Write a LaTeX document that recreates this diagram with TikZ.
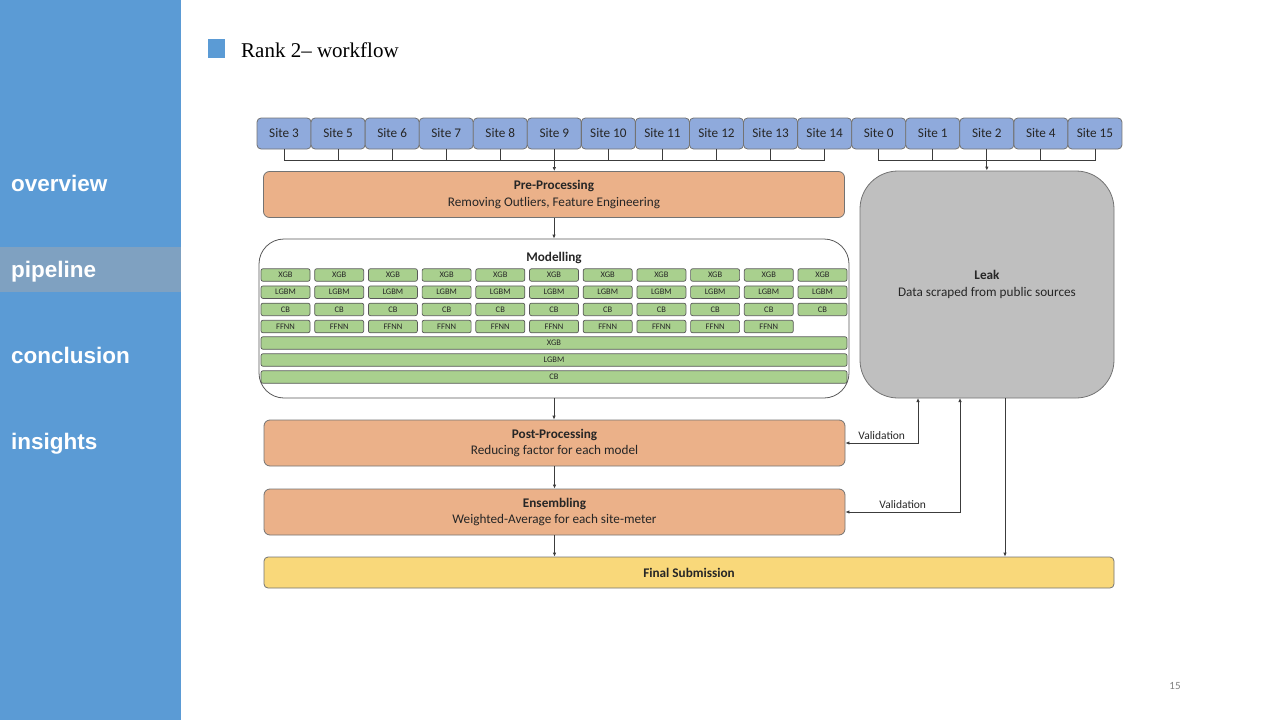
\documentclass[tikz,border=0pt]{standalone}
\usepackage{fontspec}
\setmainfont{Carlito}
\newfontfamily\navfont{Liberation Sans}
\newfontfamily\headfont[Ligatures=TeX]{Liberation Serif}
\usetikzlibrary{positioning,arrows.meta,calc}
\definecolor{navblue}{RGB}{91,155,213}
\definecolor{navsel}{RGB}{127,161,193}
\definecolor{siteblue}{RGB}{143,170,220}
\definecolor{stageorange}{RGB}{235,177,137}
\definecolor{leakgray}{RGB}{191,191,191}
\definecolor{modelgreen}{RGB}{169,208,142}
\definecolor{subyellow}{RGB}{249,216,122}
\definecolor{edgegray}{RGB}{60,60,60}

\begin{document}
\begin{tikzpicture}[x=1pt, y=-1pt, every node/.style={inner sep=0pt, text=black!85, font=\fontsize{13.2}{16.5}\selectfont}]
  \tikzset{
    site/.style={draw=black!55, line width=0.8pt, fill=siteblue, rounded corners=4pt, minimum width=54pt, minimum height=31pt},
    stage/.style={draw=black!55, line width=0.8pt, fill=stageorange, rounded corners=6pt, minimum width=581pt, minimum height=46pt, align=center},
    model/.style={draw=black!65, line width=0.7pt, fill=modelgreen, rounded corners=2pt, minimum width=49pt, minimum height=12.5pt, font=\fontsize{8.5}{9}\selectfont},
    flow/.style={draw=edgegray, line width=0.8pt, -{Latex[length=4pt,width=3.5pt]}},
    both/.style={draw=edgegray, line width=0.8pt, {Latex[length=4pt,width=3.5pt]}-{Latex[length=4pt,width=3.5pt]}},
    navitem/.style={anchor=base west, text=white, font=\navfont\bfseries\fontsize{22.5}{24}\selectfont}
  }
  \useasboundingbox (0,0) rectangle (1280,720);

  % Side bar and slide title
  \fill[navblue] (0,0) rectangle (181,720);
  \fill[navsel] (0,247) rectangle (181,292);
  \node[navitem] (nav1) at (11,191) {overview};
  \node[navitem] (nav2) at (11,277) {pipeline};
  \node[navitem] (nav3) at (11,363) {conclusion};
  \node[navitem] (nav4) at (11,449) {insights};
  \fill[navblue] (208,39) rectangle (225,58);
  \node[anchor=base west, text=black, font=\headfont\fontsize{21}{24}\selectfont] (title) at (241,57) {Rank 2-- workflow};
  \node[text=black!50, font=\fontsize{11}{12}\selectfont] (page) at (1175,686) {15};

  % Sites
  \foreach \s [count=\i from 0] in {3,5,6,7,8,9,10,11,12,13,14,0,1,2,4,15}
    \node[site] (s\s) at ({257+54.06*(\i+0.5)},133.5) {Site \s};

  % Stages
  \node[stage] (pre) at (554,194.5) {\textbf{Pre-Processing}\\Removing Outliers, Feature Engineering};
  \node[draw=black!65, line width=0.8pt, rounded corners=25pt, minimum width=590pt, minimum height=159pt] (model) at (554,318.5) {};
  \node[font=\bfseries\fontsize{13.2}{14}\selectfont] (modtitle) at (554,258) {Modelling};
  \node[stage] (post) at (554.5,443) {\textbf{Post-Processing}\\Reducing factor for each model};
  \node[stage] (ens) at (554.5,512) {\textbf{Ensembling}\\Weighted-Average for each site-meter};
  \node[draw=black!55, line width=0.8pt, fill=subyellow, rounded corners=4pt, minimum width=850pt, minimum height=31pt, font=\bfseries\fontsize{13.2}{14}\selectfont] (final) at (689,572.5) {Final Submission};
  \node[draw=black!55, line width=0.8pt, fill=leakgray, rounded corners=38pt, minimum width=254pt, minimum height=227pt, align=center] (leak) at (987,284.5) {\textbf{Leak}\\Data scraped from public sources};

  % Per-site models
  \foreach \m [count=\r from 0] in {XGB,LGBM,CB}
    \foreach \c in {0,...,10}
      \node[model] (m\r\c) at ({285.5+53.7*\c},{275+17.2*\r}) {\m};
  \foreach \c in {0,...,9}
    \node[model] (nn\c) at ({285.5+53.7*\c},326.5) {FFNN};
  % Global models
  \foreach \m [count=\r from 0] in {XGB,LGBM,CB}
    \node[model, minimum width=586pt] (g\r) at (554,{343+17*\r}) {\m};

  % Site groups
  \draw[edgegray, line width=0.8pt] (s3.south) -- ++(0,11) -| (s14.south);
  \foreach \s in {5,6,7,8,10,11,12,13}
    \draw[edgegray, line width=0.8pt] (s\s.south) -- ++(0,11);
  \draw[flow] (s9.south) -- (s9.south |- pre.north);
  \draw[edgegray, line width=0.8pt] (s0.south) -- ++(0,11) -| (s15.south);
  \foreach \s in {1,4}
    \draw[edgegray, line width=0.8pt] (s\s.south) -- ++(0,11);
  \draw[flow] (s2.south) -- (s2.south |- leak.north);

  % Main flow
  \draw[flow] (pre.south) -- (model.north);
  \draw[flow] (model.south) -- (model.south |- post.north);
  \draw[flow] (post.south) -- (ens.north);
  \draw[flow] (ens.south) -- (ens.south |- final.north);

  % Leak connections
  \coordinate (v1) at (918,398);
  \coordinate (v2) at (960,398);
  \coordinate (v3) at (1005,398);
  \draw[both] (post.east) -| (v1) node[pos=0.25, above=3pt, font=\fontsize{11.5}{12}\selectfont] {Validation};
  \draw[both] (ens.east) -| (v2) node[pos=0.25, above=3pt, font=\fontsize{11.5}{12}\selectfont] {Validation};
  \draw[flow] (v3) -- (v3 |- final.north);
\end{tikzpicture}
\end{document}
